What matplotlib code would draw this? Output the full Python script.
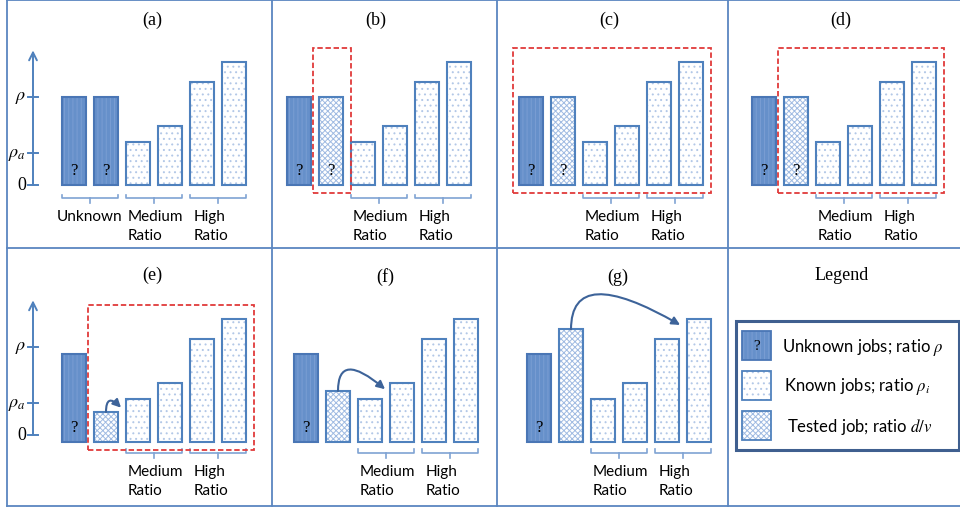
import matplotlib.pyplot as plt
from matplotlib.patches import Rectangle, FancyArrowPatch

# ---- data (heights in units of rho) ----
panels = ['a', 'b', 'c', 'd', 'e', 'f', 'g']
unknown_ratio = 1.0
rho_a = 0.36
medium_ratios = [0.49, 0.67]
high_ratios = [1.17, 1.40]
tested_ratio = {'b': 1.0, 'c': 1.0, 'd': 1.0, 'e': 0.34, 'f': 0.58, 'g': 1.28}
# slots of the red dashed box (first, last)
box_slots = {'b': (1, 1), 'c': (0, 5), 'd': (1, 5), 'e': (1, 5)}
# where the curved arrow of the tested job lands (slot, ratio)
arrow_end = {'e': (1.47, 0.39), 'f': (2.47, 0.60), 'g': (4.41, 1.33)}
legend_labels = ['Unknown jobs; ratio $\\rho$', 'Known jobs; ratio $\\rho_i$',
                 'Tested job; ratio $d/v$']

W, H = 960, 510
SLOT, UNIT = 32.0, 88.0
SANS = ['Lato', 'DejaVu Sans']
SERIF = ['Liberation Serif', 'DejaVu Serif']

plt.rcParams['mathtext.fontset'] = 'stix'
plt.rcParams['hatch.linewidth'] = 0.7

line_blue = '#4f81bd'
brace_blue = '#7fa3d3'
red = '#e03a3a'
arrow_blue = '#3d6399'

styles = {
    'unknown': dict(face='#6690ca', hatch='||||', hcol='#7a9ed3', edge='#4a76b5'),
    'known': dict(face='white', hatch='...', hcol='#b3c8e7', edge=line_blue),
    'tested': dict(face='white', hatch='xxxxxx', hcol='#a0bbe2', edge=line_blue),
}

# cell (x0, x1, y0, y1), first bar left px, baseline px, title pos
layout = {
    'a': ((7, 272, 1, 249), 62, 186, (152, 20)),
    'b': ((272, 497, 1, 249), 287, 186, (376, 20)),
    'c': ((497, 728, 1, 249), 519, 186, (609, 20)),
    'd': ((728, 960, 1, 249), 752, 186, (841, 20)),
    'e': ((7, 272, 249, 507), 62, 443, (152, 275)),
    'f': ((272, 497, 249, 507), 294, 443, (385, 277)),
    'g': ((497, 728, 249, 507), 527, 443, (618, 277)),
}

fig = plt.figure(figsize=(W / 100, H / 100), dpi=100)


def draw_bar(ax, x, h, kind):
    s = styles[kind]
    ax.bar(x, h, width=0.75, color=s['face'], edgecolor=s['hcol'], hatch=s['hatch'], linewidth=0)
    ax.bar(x, h, width=0.75, fill=False, edgecolor=s['edge'], linewidth=1.5)


def brace(ax, s0, s1, yb):
    xl, xr = s0 - 0.36, s1 + 0.36
    mid = (s0 + s1) / 2
    ax.plot([xl, xl, xr, xr], [yb + 0.04, yb, yb, yb + 0.04], color=brace_blue, lw=1.2, clip_on=False)
    ax.plot([mid, mid], [yb, yb - 0.06], color=brace_blue, lw=1.2, clip_on=False)


for p in panels:
    (x0, x1, y0, y1), left, base, (tx, ty) = layout[p]
    ax = fig.add_axes([x0 / W, 1 - y1 / H, (x1 - x0) / W, (y1 - y0) / H])
    ax.set_axis_off()
    c0 = left + 12
    ax.set_xlim((x0 - c0) / SLOT, (x1 - c0) / SLOT)
    ax.set_ylim((base - y1) / UNIT, (base - y0) / UNIT)
    row2 = base > 300

    ax.text((tx - c0) / SLOT, (base - ty) / UNIT, '(%s)' % p, ha='center', va='center',
            family=SERIF, fontsize=13)

    second = 'unknown' if p == 'a' else 'tested'
    h2 = unknown_ratio if p == 'a' else tested_ratio[p]
    heights = [unknown_ratio, h2] + medium_ratios + high_ratios
    kinds = ['unknown', second, 'known', 'known', 'known', 'known']
    for i, (k, h) in enumerate(zip(kinds, heights)):
        draw_bar(ax, i, h, k)

    qmarks = [0, 1] if not row2 else [0]
    for i in qmarks:
        ax.text(i, 0.17, '?', ha='center', va='center', family=SERIF, fontsize=12)

    # y axis with rho ticks (panels a and e)
    if p in ('a', 'e'):
        ax_x = (33 - c0) / SLOT
        off = 0.08 if row2 else 0.0
        ax.annotate('', xy=(ax_x, off + 1.53), xytext=(ax_x, off),
                    arrowprops=dict(arrowstyle='->', color=line_blue, lw=1.4,
                                    shrinkA=0, shrinkB=0, mutation_scale=14))
        for val, lab in [(0, '0'), (rho_a, '$\\rho_a$'), (unknown_ratio, '$\\rho$')]:
            ax.plot([ax_x - 0.15, ax_x + 0.15], [val + off, val + off], color=line_blue, lw=1.4)
            ax.text(ax_x - 0.22, val + off, lab, ha='right', va='center', family=SERIF, fontsize=13)

    # braces and group labels
    yb = -0.125 if row2 else -0.15
    ylab = -0.44 if row2 else -0.46
    if p == 'a':
        brace(ax, 0, 1, yb)
        ax.text(0.5, -0.35, 'Unknown', ha='center', va='center', family=SANS, fontsize=11)
    brace(ax, 2, 3, yb)
    brace(ax, 4, 5, yb)
    ax.text(1.68, ylab, 'Medium\nRatio', ha='left', va='center', family=SANS, fontsize=11,
            linespacing=1.45)
    ax.text(3.75, ylab, 'High\nRatio', ha='left', va='center', family=SANS, fontsize=11,
            linespacing=1.45)

    # red dashed selection box
    if p in box_slots:
        s0, s1 = box_slots[p]
        xl = s0 - 0.375 - 0.19
        xr = s1 + 0.375 + 0.24
        ax.add_patch(Rectangle((xl, -0.09), xr - xl, 1.65, fill=False, edgecolor=red,
                               lw=1.3, ls=(0, (3, 1.5)), clip_on=False, zorder=5))

    # curved arrow for the tested job
    if p in arrow_end:
        ex, ey = arrow_end[p]
        ang = {'e': -45, 'f': -40, 'g': -30}[p]
        ax.add_patch(FancyArrowPatch((1, tested_ratio[p]), (ex, ey),
                                     connectionstyle='angle3,angleA=90,angleB=%d' % ang,
                                     arrowstyle='-|>', mutation_scale=12, color=arrow_blue,
                                     lw=1.5, shrinkA=0, shrinkB=0, clip_on=False, zorder=6))

# legend cell
lg = fig.add_axes([728 / W, 1 - 507 / H, 232 / W, 258 / H])
lg.set_axis_off()
lg.set_xlim(728, 960)
lg.set_ylim(507, 249)
lg.text(842, 275, 'Legend', ha='center', va='center', family=SERIF, fontsize=13)
lg.add_patch(Rectangle((736, 322), 223, 129, facecolor='white', edgecolor='#3f5f8f', lw=2.2))
for j, (k, lab) in enumerate(zip(['unknown', 'known', 'tested'], legend_labels)):
    s = styles[k]
    ytop = 332 + 40 * j
    lg.add_patch(Rectangle((742, ytop), 29, 29, facecolor=s['face'], edgecolor=s['hcol'],
                           hatch=s['hatch'], lw=0))
    lg.add_patch(Rectangle((742, ytop), 29, 29, fill=False, edgecolor=s['edge'], lw=1.3))
    if k == 'unknown':
        lg.text(756.5, ytop + 14.5, '?', ha='center', va='center', family=SERIF, fontsize=11)
    lg.text(782 + 2.5 * j, ytop + 15, lab, ha='left', va='center', family=SANS, fontsize=12)

# panel grid lines on top
bg = fig.add_axes([0, 0, 1, 1], zorder=10)
bg.set_axis_off()
bg.set_xlim(0, W)
bg.set_ylim(H, 0)
grid_col = '#5b86c0'
bg.plot([7, 7], [1, 507], color=grid_col, lw=1.3)
for y in (1, 249, 507):
    bg.plot([7, 960], [y, y], color=grid_col, lw=1.3)
for x in (272, 497, 728):
    bg.plot([x, x], [1, 507], color=grid_col, lw=1.3)

fig.savefig('out.png', dpi=100)
